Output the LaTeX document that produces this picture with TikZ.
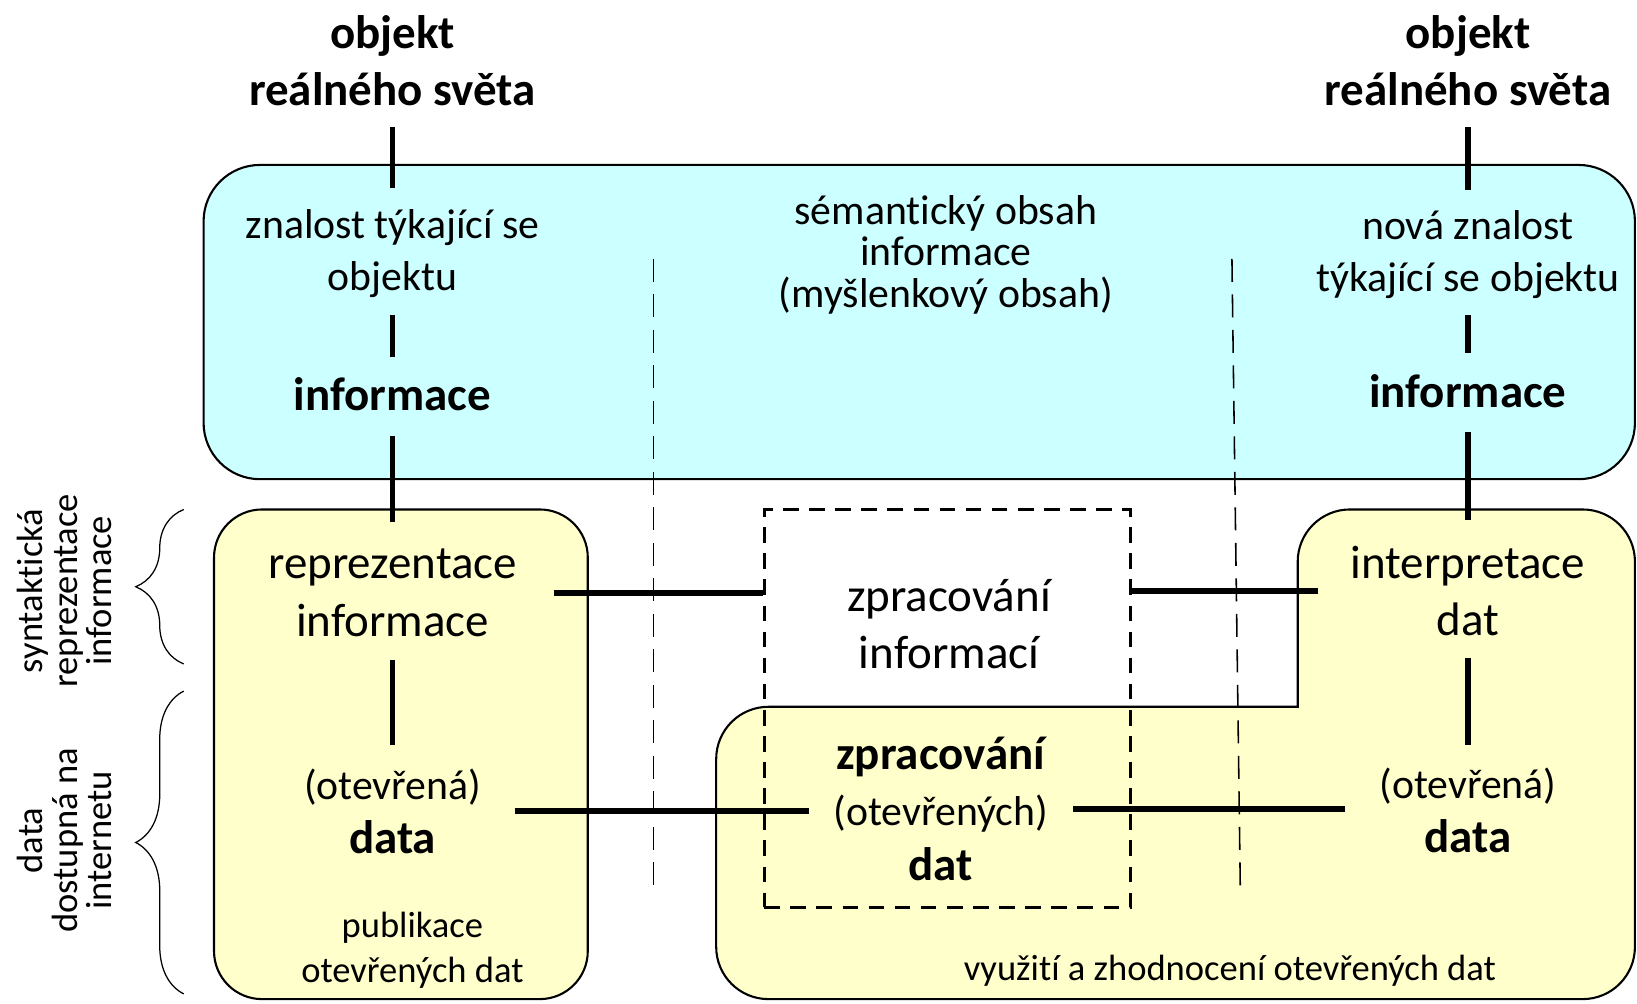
\documentclass[tikz,border=0pt]{standalone}
\usepackage{fontspec}
\setmainfont{Carlito}[Ligatures={NoCommon,NoContextual},Contextuals=NoAlternate]
\usetikzlibrary{decorations.pathreplacing}
\definecolor{bluefill}{HTML}{CCFFFF}
\definecolor{yelfill}{HTML}{FFFFCC}
\begin{document}
\begin{tikzpicture}[x=0.5pt,y=-0.5pt,
  boxline/.style={draw=black,line width=1pt},
  conn/.style={line width=2.6pt},
  sepline/.style={line width=0.75pt,dash pattern=on 11pt off 6pt},
  dbox/.style={draw,line width=1.5pt,dash pattern=on 7.5pt off 5pt,minimum width=175.5pt,minimum height=190.5pt,inner sep=0pt},
  txt/.style={align=center,inner sep=0pt},
  ftitle/.style={font=\bfseries\fontsize{22.5pt}{27.5pt}\selectfont},
  fbody/.style={font=\fontsize{20pt}{25pt}\selectfont},
  fbig/.style={font=\fontsize{22.5pt}{27.5pt}\selectfont},
  fbold/.style={font=\bfseries\fontsize{22.5pt}{27.5pt}\selectfont},
  fsmall/.style={font=\fontsize{17.5pt}{21.5pt}\selectfont},
  fside/.style={font=\fontsize{17.5pt}{16.5pt}\selectfont},
  bracestyle/.style={decorate,decoration={brace,amplitude=23pt},line width=0.6pt}
]
\useasboundingbox (0,0) rectangle (1568,961);

% containers
\draw[boxline,fill=bluefill,rounded corners=27pt] (195,158) rectangle (1566,459);
\draw[boxline,fill=yelfill,rounded corners=23pt] (205,488) rectangle (563,957);
\draw[boxline,fill=yelfill] (686,727) arc[start angle=180,end angle=90,radius=25pt]
  -- (1243,677) -- (1243,538) arc[start angle=180,end angle=90,radius=25pt]
  -- (1516,488) arc[start angle=90,end angle=0,radius=25pt]
  -- (1566,907) arc[start angle=0,end angle=-90,radius=25pt]
  -- (736,957) arc[start angle=270,end angle=180,radius=25pt] -- cycle;

% separators
\draw[sepline] (626,248) -- (626,858);
\draw[sepline] (1180,248) -- (1188,850);

% dashed processing box
\node[dbox] (zpbox) at (907.5,678.5) {};

% texts
\node[txt,ftitle] (t1) at (376,58) {objekt\\reálného světa};
\node[txt,ftitle] (t2) at (1406,58) {objekt\\reálného světa};
\node[txt,fbody] (k1) at (376,243) {znalost týkající se\\objektu};
\node[txt,fbold] (i1) at (376,378) {informace};
\node[txt,fbody,font=\fontsize{20pt}{19.75pt}\selectfont] (sem) at (906,244) {sémantický obsah\\informace\\(myšlenkový obsah)};
\node[txt,fbody] (k2) at (1406,244) {nová znalost\\týkající se objektu};
\node[txt,fbold] (i2) at (1406,375) {informace};
\node[txt,fbig] (r1) at (376,568) {reprezentace\\informace};
\node[txt,fbig] (zi) at (909,598) {zpracování\\informací};
\node[txt,fbig] (ip) at (1406,566) {interpretace\\dat};
\node[txt,font=\fontsize{20pt}{26pt}\selectfont] (d1) at (376,777) {(otevřená)\\{\bfseries\fontsize{22.5pt}{26pt}\selectfont data}};
\node[txt,font=\fontsize{20pt}{26pt}\selectfont] (d2) at (1406,776) {(otevřená)\\{\bfseries\fontsize{22.5pt}{26pt}\selectfont data}};
\node[txt,font=\fontsize{20pt}{26.5pt}\selectfont] (zd) at (901,775) {{\bfseries\fontsize{22.5pt}{26.5pt}\selectfont zpracování}\\(otevřených)\\{\bfseries\fontsize{22.5pt}{26.5pt}\selectfont dat}};
\node[txt,fsmall] (pub) at (395,910) {publikace\\otevřených dat};
\node[txt,fsmall] (vyu) at (1178,930) {využití a zhodnocení otevřených dat};
\node[txt,fside,rotate=90] (side1) at (62,566) {syntaktická\\reprezentace\\informace};
\node[txt,fside,rotate=90] (side2) at (62,805) {data\\dostupná na\\internetu};

% braces
\draw[bracestyle] (176,636) -- (176,488);
\draw[bracestyle] (176,952) -- (176,662);

% vertical connectors left
\draw[conn,shorten <=32pt,shorten >=31.5pt] (t1.center) -- (k1.center);
\draw[conn,shorten <=29.5pt,shorten >=18pt] (k1.center) -- (i1.center);
\draw[conn,shorten <=20pt,shorten >=34pt] (i1.center) -- (r1.center);
\draw[conn,shorten <=32pt,shorten >=31.5pt] (r1.center) -- (d1.center);
% vertical connectors right
\draw[conn,shorten <=32pt,shorten >=31pt] (t2.center) -- (k2.center);
\draw[conn,shorten <=29pt,shorten >=18.5pt] (k2.center) -- (i2.center);
\draw[conn,shorten <=19.5pt,shorten >=34pt] (i2.center) -- (ip.center);
\draw[conn,shorten <=32pt,shorten >=31pt] (ip.center) -- (d2.center);
% horizontal connectors
\draw[conn] ([xshift=77.5pt]r1.center) -- (r1.center -| zpbox.west);
\draw[conn] (zpbox.east |- ip.center) -- ([xshift=-72pt]ip.center);
\draw[conn,shorten <=58.5pt,shorten >=63pt] (d1.center) -- (d1.center -| zd.center);
\draw[conn,shorten <=63.5pt,shorten >=59pt] (zd.center) -- (zd.center -| d2.center);
\end{tikzpicture}
\end{document}
